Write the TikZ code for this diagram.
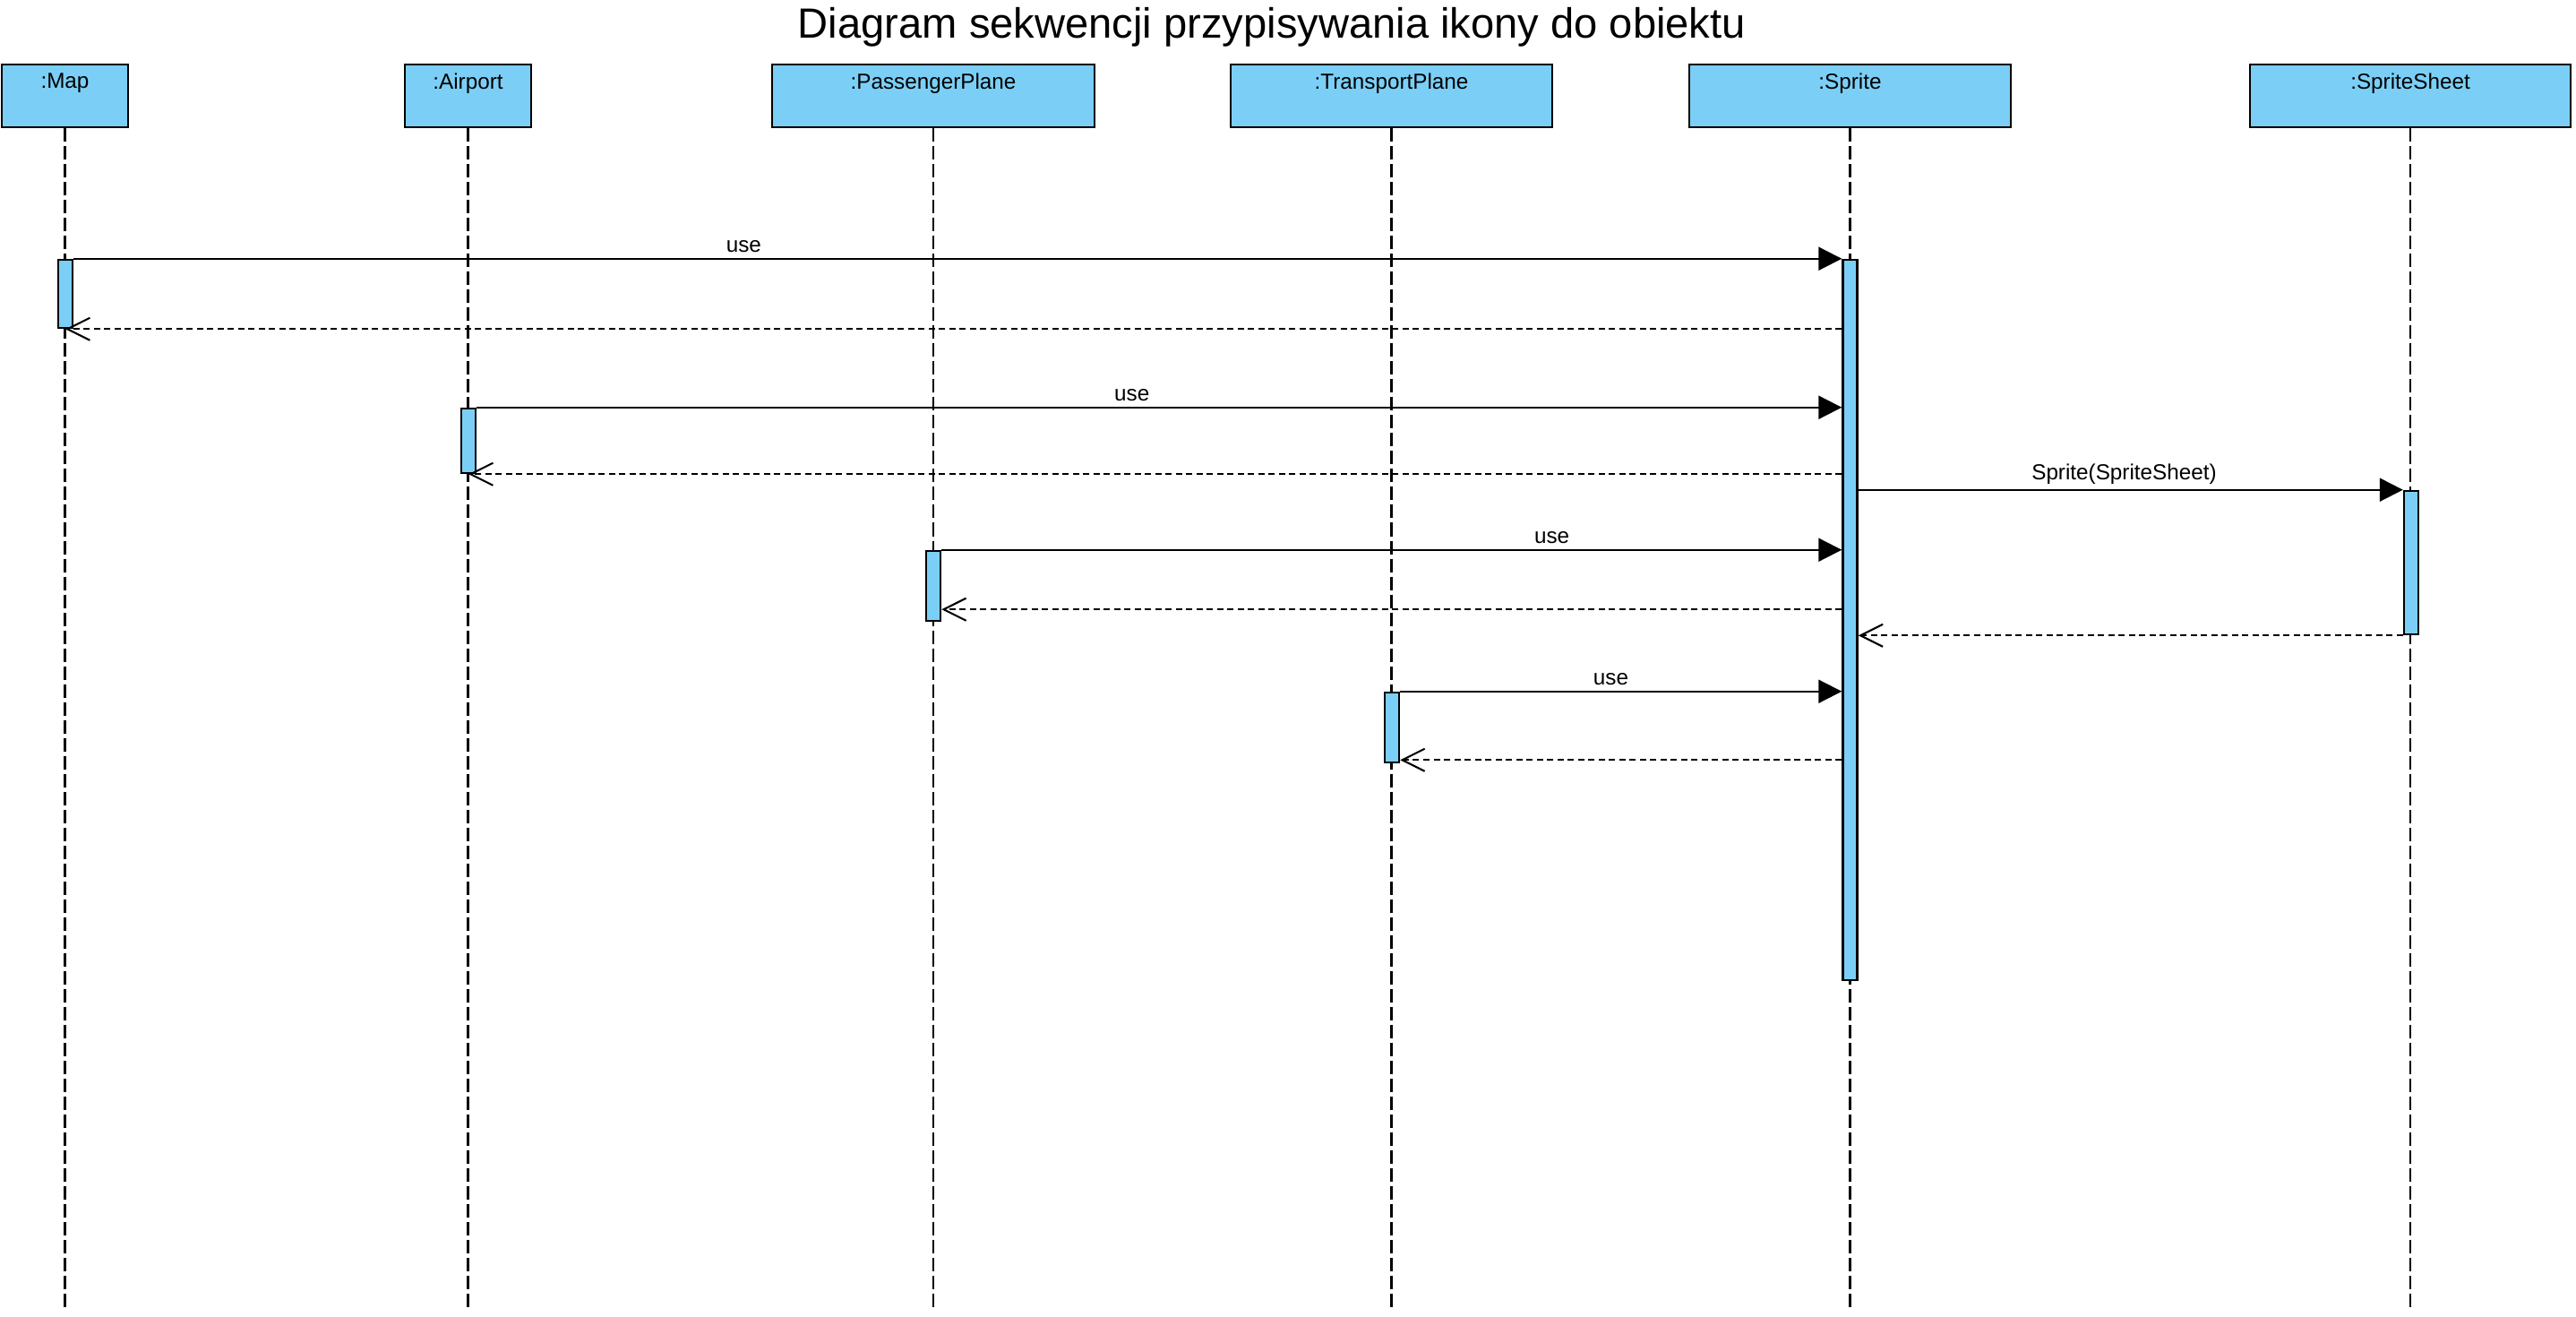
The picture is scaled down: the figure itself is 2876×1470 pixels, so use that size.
\documentclass[tikz,border=0pt]{standalone}
\usepackage{fontspec}
\setmainfont{Liberation Sans}
\usetikzlibrary{arrows.meta,positioning}
\definecolor{lifeblue}{RGB}{123,207,246}
\tikzset{%
  % Specifications for style of boxes:
            base/.style = {rectangle, draw=black, line width=0.7pt, fill=lifeblue, inner sep=0pt},
          objbox/.style = {base, minimum height=0.7cm},
      activation/.style = {base, minimum width=0.16cm},
         boxtext/.style = {anchor=north, inner sep=3pt, font=\fontsize{6.9}{8}\selectfont},
        lifeline/.style = {line width=0.6pt, dash pattern=on 0.15cm off 0.05cm},
  % messages
             msg/.style = {-{Triangle[length=0.26cm,width=0.26cm]}, line width=0.6pt},
             ret/.style = {-{Straight Barb[length=0.25cm,width=0.25cm]}, line width=0.6pt,
                           dash pattern=on 0.07cm off 0.045cm},
         msgtext/.style = {above, inner sep=1.6pt, font=\fontsize{6.9}{8}\selectfont}
}
\begin{document}
\begin{tikzpicture}[x=0.01cm, y=-0.01cm]
\useasboundingbox (0,0) rectangle (2876,1470);

\node (title) at (1420,30) [font=\fontsize{13.4}{16}\selectfont] {Diagram sekwencji przypisywania ikony do obiektu};

\node (map)     [objbox, minimum width=1.41cm] at (72.5,107)  {};
\node (airport) [objbox, minimum width=1.41cm] at (522.5,107) {};
\node (pass)    [objbox, minimum width=3.6cm]  at (1042,107)  {};
\node (trans)   [objbox, minimum width=3.59cm] at (1553.5,107) {};
\node (sprite)  [objbox, minimum width=3.59cm] at (2065.5,107) {};
\node (sheet)   [objbox, minimum width=3.58cm] at (2691,107)  {};

\node (maptext)     [boxtext] at (map.north)     {:Map};
\node (airporttext) [boxtext] at (airport.north) {:Airport};
\node (passtext)    [boxtext] at (pass.north)    {:PassengerPlane};
\node (transtext)   [boxtext] at (trans.north)   {:TransportPlane};
\node (spritetext)  [boxtext] at (sprite.north)  {:Sprite};
\node (sheettext)   [boxtext] at (sheet.north)   {:SpriteSheet};

\coordinate (bottom) at (0,1463);
\foreach \o in {map,airport,pass,trans,sprite,sheet}
  \draw[lifeline] (\o.south) -- (\o.south |- bottom);

\node (actmap)    [activation, minimum height=0.76cm] at (73,328)     {};
\node (actair)    [activation, minimum height=0.72cm] at (523,492)    {};
\node (actsprite) [activation, minimum height=8.04cm] at (2065.5,692) {};
\node (actsheet)  [activation, minimum height=1.6cm]  at (2692,628)   {};
\node (actpass)   [activation, minimum height=0.78cm] at (1042,654)   {};
\node (acttrans)  [activation, minimum height=0.78cm] at (1554,812)   {};

\draw[msg] (actmap.north east) -- node[msgtext, pos=0.379] {use} (actsprite.west |- actmap.north);
\draw[ret] (actsprite.west |- actmap.south) -- (actmap.south);

\draw[msg] (actair.north east) -- node[msgtext, pos=0.48] {use} (actsprite.west |- actair.north);
\draw[ret] (actsprite.west |- actair.south) -- (actair.south);

\draw[msg] (actsprite.east |- actsheet.north) -- node[msgtext, pos=0.488] {Sprite(SpriteSheet)} (actsheet.north west);
\draw[ret] (actsheet.south west) -- (actsprite.east |- actsheet.south);

\coordinate (r4) at ([yshift=0.14cm]actpass.south east);
\draw[msg] (actpass.north east) -- node[msgtext, pos=0.678] {use} (actsprite.west |- actpass.north);
\draw[ret] (actsprite.west |- r4) -- (r4);

\coordinate (r5) at ([yshift=0.04cm]acttrans.south east);
\draw[msg] (acttrans.north east) -- node[msgtext, pos=0.477] {use} (actsprite.west |- acttrans.north);
\draw[ret] (actsprite.west |- r5) -- (r5);

\end{tikzpicture}
\end{document}
